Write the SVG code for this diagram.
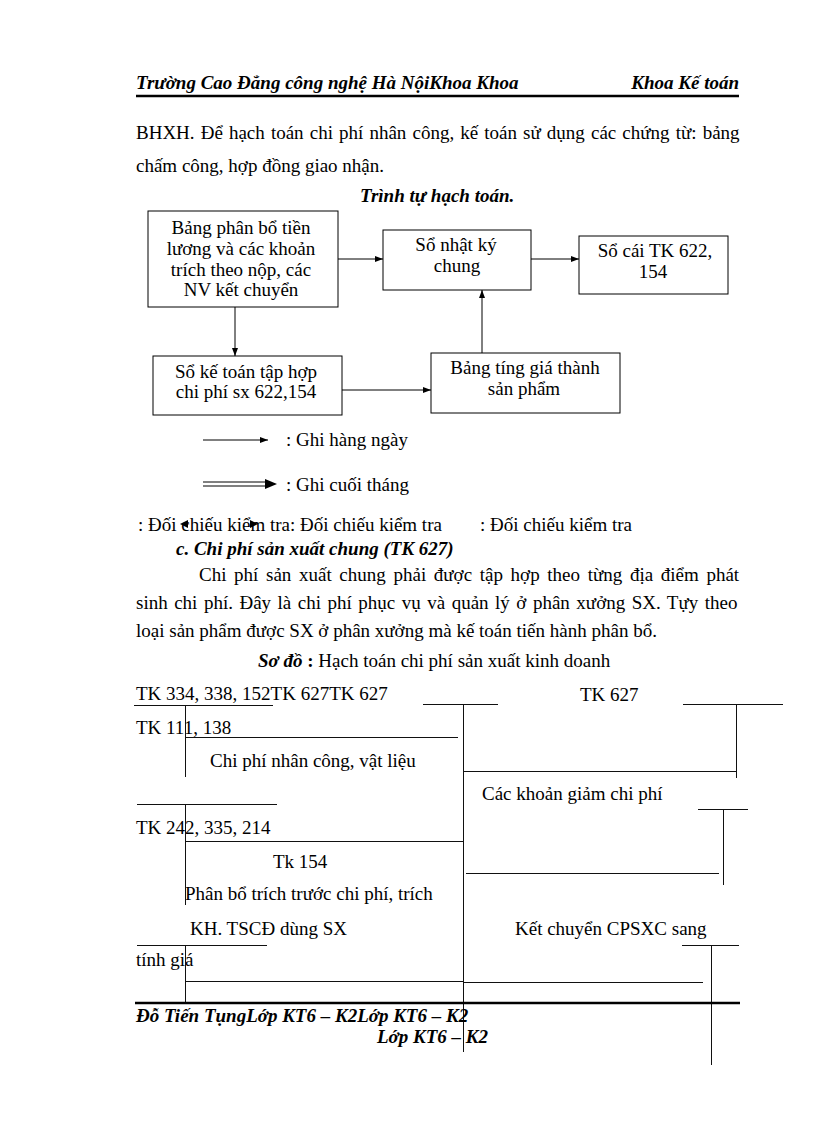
<svg xmlns="http://www.w3.org/2000/svg" width="816" height="1123" viewBox="0 0 816 1123">
<defs>
<style>
text{font-family:"Liberation Serif","Times New Roman",serif;font-size:19px;fill:#000}
.bi{font-weight:bold;font-style:italic}
.hd{font-weight:bold;font-style:italic;font-size:19px}
.c{text-anchor:middle}
.box{fill:#fff;stroke:#000;stroke-width:1}
.ln{stroke:#000;stroke-width:1;fill:none}
.tl{stroke:#111;stroke-width:1;fill:none}
</style>
<marker id="ah" markerWidth="8" markerHeight="6" refX="8" refY="3" orient="auto" markerUnits="userSpaceOnUse"><path d="M0,0 L8,3 L0,6 z" fill="#000"/></marker>
</defs>
<rect width="816" height="1123" fill="#fff"/>

<!-- header -->
<text class="hd" x="136" y="89">Trường Cao Đẳng công nghệ Hà NộiKhoa Khoa</text>
<text class="hd" x="739" y="89" text-anchor="end">Khoa Kế toán</text>
<line x1="136" y1="96" x2="739" y2="96" stroke="#000" stroke-width="2.5"/>

<text x="136" y="139" word-spacing="1.35">BHXH. Để hạch toán chi phí nhân công, kế toán sử dụng các chứng từ: bảng</text>
<text x="136" y="172">chấm công, hợp đồng giao nhận.</text>

<text class="bi" x="360" y="202">Trình tự hạch toán.</text>

<!-- nodes -->
<g id="box1">
<rect class="box" x="148" y="211" width="190" height="96"/>
<text class="c" x="241" y="234">Bảng phân bổ tiền</text>
<text class="c" x="241" y="255">lương và các khoản</text>
<text class="c" x="241" y="276">trích theo nộp, các</text>
<text class="c" x="241" y="296">NV kết chuyển</text>
</g>
<g id="box2">
<rect class="box" x="383" y="230" width="148" height="60"/>
<text class="c" x="456" y="251">Sổ nhật ký</text>
<text class="c" x="457" y="272">chung</text>
</g>
<g id="box3">
<rect class="box" x="579" y="236" width="149" height="58"/>
<text class="c" x="655" y="257">Sổ cái TK 622,</text>
<text class="c" x="653" y="278">154</text>
</g>
<g id="box4">
<rect class="box" x="153" y="356" width="189" height="59"/>
<text class="c" x="246" y="378">Sổ kế toán tập hợp</text>
<text class="c" x="246" y="398">chi phí sx 622,154</text>
</g>
<g id="box5">
<rect class="box" x="431" y="353" width="189" height="60"/>
<text class="c" x="525" y="374">Bảng tíng giá thành</text>
<text class="c" x="524" y="395">sản phẩm</text>
</g>

<!-- connectors -->
<g id="connectors">
<line class="ln" x1="338" y1="259" x2="383" y2="259" marker-end="url(#ah)"/>
<line class="ln" x1="531" y1="259" x2="579" y2="259" marker-end="url(#ah)"/>
<line class="ln" x1="235" y1="307" x2="235" y2="356" marker-end="url(#ah)"/>
<line class="ln" x1="342" y1="390" x2="431" y2="390" marker-end="url(#ah)"/>
<line class="ln" x1="482" y1="353" x2="482" y2="290" marker-end="url(#ah)"/>
</g>

<!-- legend -->
<g id="legend">
<line class="ln" x1="203" y1="440" x2="268" y2="440" marker-end="url(#ah)"/>
<text x="286" y="446">: Ghi hàng ngày</text>
<line class="ln" x1="203" y1="482" x2="267" y2="482"/>
<line class="ln" x1="203" y1="486" x2="267" y2="486"/>
<path d="M265,479 L277,484 L265,489 z" fill="#000"/>
<text x="286" y="491">: Ghi cuối tháng</text>
<text x="138" y="531">: Đối chiếu kiểm tra: Đối chiếu kiểm tra</text>
<text x="480" y="531">: Đối chiếu kiểm tra</text>
<path d="M180,524 L188,520 L188,528 z" fill="#000"/>
<path d="M258,524 L250,520 L250,528 z" fill="#000"/>
</g>

<text class="bi" x="176" y="555">c. Chi phí sản xuất chung (TK 627)</text>
<text x="199" y="581" word-spacing="2.9">Chi phí sản xuất chung phải được tập hợp theo từng địa điểm phát</text>
<text x="136" y="609" word-spacing="1.75">sinh chi phí. Đây là chi phí phục vụ và quản lý ở phân xưởng SX. Tựy theo</text>
<text x="136" y="637">loại sản phẩm được SX ở phân xưởng mà kế toán tiến hành phân bổ.</text>
<text x="258" y="667"><tspan class="bi">Sơ đồ</tspan><tspan font-weight="bold"> :</tspan> Hạch toán chi phí sản xuất kinh doanh</text>

<!-- T accounts -->
<g id="t-accounts">
<text x="136" y="700">TK 334, 338, 152TK 627TK 627</text>
<text x="580" y="701">TK 627</text>
<text x="136" y="734">TK 111, 138</text>
<text x="210" y="767">Chi phí nhân công, vật liệu</text>
<text x="482" y="800">Các khoản giảm chi phí</text>
<text x="136" y="834">TK 242, 335, 214</text>
<text x="273" y="868">Tk 154</text>
<text x="185" y="900">Phân bổ trích trước chi phí, trích</text>
<text x="190" y="935">KH. TSCĐ dùng SX</text>
<text x="515" y="935">Kết chuyển CPSXC sang</text>
<text x="136" y="966">tính giá</text>

<line class="tl" x1="134" y1="705.5" x2="273" y2="705.5"/>
<line class="tl" x1="185.5" y1="705" x2="185.5" y2="777"/>
<line class="tl" x1="185" y1="737.5" x2="458" y2="737.5"/>
<line class="tl" x1="423" y1="704.5" x2="498" y2="704.5"/>
<line class="tl" x1="463.5" y1="704" x2="463.5" y2="1052"/>
<line class="tl" x1="683" y1="704.5" x2="783" y2="704.5"/>
<line class="tl" x1="736.5" y1="704" x2="736.5" y2="778"/>
<line class="tl" x1="463" y1="771.5" x2="736" y2="771.5"/>
<line class="tl" x1="137" y1="804.5" x2="277" y2="804.5"/>
<line class="tl" x1="185.5" y1="804" x2="185.5" y2="905"/>
<line class="tl" x1="698" y1="809.5" x2="748" y2="809.5"/>
<line class="tl" x1="723.5" y1="809" x2="723.5" y2="885"/>
<line class="tl" x1="185" y1="841.5" x2="463" y2="841.5"/>
<line class="tl" x1="466" y1="873.5" x2="719" y2="873.5"/>
<line class="tl" x1="137" y1="945.5" x2="267" y2="945.5"/>
<line class="tl" x1="185.5" y1="945" x2="185.5" y2="1003"/>
<line class="tl" x1="682" y1="945.5" x2="739" y2="945.5"/>
<line class="tl" x1="711.5" y1="945" x2="711.5" y2="1065"/>
<line class="tl" x1="185" y1="981.5" x2="463" y2="981.5"/>
<line class="tl" x1="463" y1="982.5" x2="703" y2="982.5"/>
</g>

<!-- footer -->
<line x1="135" y1="1003" x2="740" y2="1003" stroke="#000" stroke-width="2.5"/>
<text class="hd" x="136" y="1022">Đỗ Tiến TụngLớp KT6 – K2Lớp KT6 – K2</text>
<text class="hd" x="377" y="1043">Lớp KT6 – K2</text>
</svg>
